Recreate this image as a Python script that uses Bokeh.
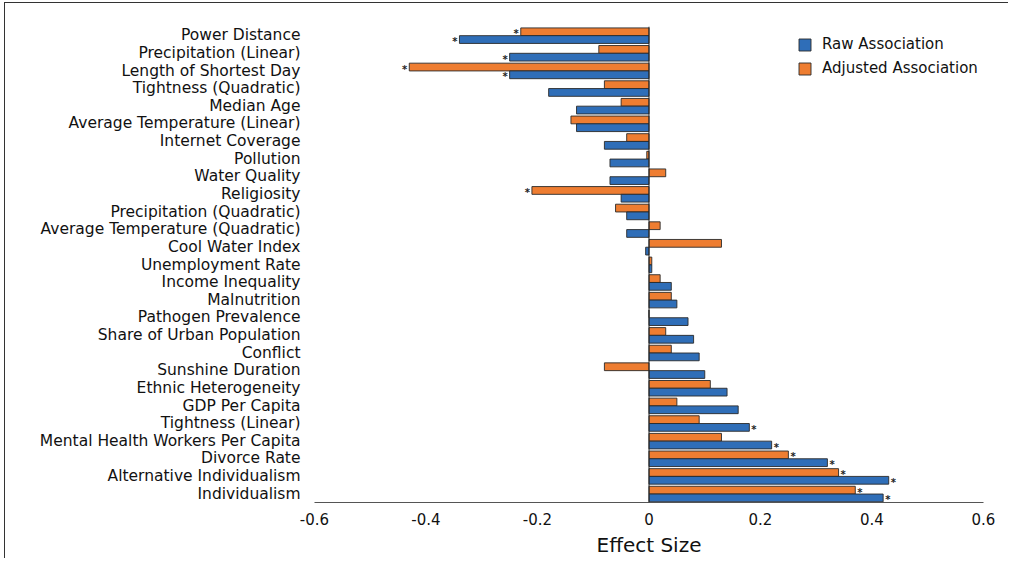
from bokeh.plotting import figure
from bokeh.models import Range1d, FixedTicker, Span, Legend, LegendItem, ColumnDataSource
from bokeh.core.properties import value
from bokeh.embed import file_html
from bokeh.resources import INLINE

categories = ["Power Distance", "Precipitation (Linear)", "Length of Shortest Day",
              "Tightness (Quadratic)", "Median Age", "Average Temperature (Linear)",
              "Internet Coverage", "Pollution", "Water Quality", "Religiosity",
              "Precipitation (Quadratic)", "Average Temperature (Quadratic)",
              "Cool Water Index", "Unemployment Rate", "Income Inequality", "Malnutrition",
              "Pathogen Prevalence", "Share of Urban Population", "Conflict",
              "Sunshine Duration", "Ethnic Heterogeneity", "GDP Per Capita",
              "Tightness (Linear)", "Mental Health Workers Per Capita", "Divorce Rate",
              "Alternative Individualism", "Individualism"]

raw = [-0.34, -0.25, -0.25, -0.18, -0.13, -0.13, -0.08, -0.07, -0.07, -0.05,
       -0.04, -0.04, -0.006, 0.005, 0.04, 0.05, 0.07, 0.08, 0.09, 0.10,
       0.14, 0.16, 0.18, 0.22, 0.32, 0.43, 0.42]
adjusted = [-0.23, -0.09, -0.43, -0.08, -0.05, -0.14, -0.04, -0.004, 0.03, -0.21,
            -0.06, 0.02, 0.13, 0.005, 0.02, 0.04, 0.0, 0.03, 0.04, -0.08,
            0.11, 0.05, 0.09, 0.13, 0.25, 0.34, 0.37]
raw_sig = [1, 1, 1, 0, 0, 0, 0, 0, 0, 0, 0, 0, 0, 0, 0, 0, 0, 0, 0, 0, 0, 0, 1, 1, 1, 1, 1]
adj_sig = [1, 0, 1, 0, 0, 0, 0, 0, 0, 1, 0, 0, 0, 0, 0, 0, 0, 0, 0, 0, 0, 0, 0, 0, 1, 1, 1]

x_ticks = [-0.6, -0.4, -0.2, 0, 0.2, 0.4, 0.6]
x_tick_labels = ["-0.6", "-0.4", "-0.2", "0", "0.2", "0.4", "0.6"]

BLUE = "#2F6EB8"
ORANGE = "#EE7D31"
FONT = "DejaVu Sans"

n = len(categories)
rows = [n - 1 - i for i in range(n)]

p = figure(width=1004, height=556, output_backend="svg", toolbar_location=None,
           x_range=Range1d(-0.6, 0.6), y_range=Range1d(-0.5, n - 0.5),
           min_border_left=309, min_border_right=26, min_border_top=23, min_border_bottom=57,
           styles={"margin-left": "4px", "margin-top": "2px",
                   "border-left": "1px solid #333", "border-top": "1px solid #333"})
p.outline_line_color = None
p.grid.visible = False
p.background_fill_color = "white"

src_raw = ColumnDataSource(dict(y=[r - 0.24 for r in rows], right=raw))
src_adj = ColumnDataSource(dict(y=[r + 0.20 for r in rows], right=adjusted))

r_adj = p.hbar(y="y", left=0, right="right", height=0.44, source=src_adj,
               fill_color=ORANGE, line_color="#2a2a2a", line_width=0.9)
r_raw = p.hbar(y="y", left=0, right="right", height=0.44, source=src_raw,
               fill_color=BLUE, line_color="#2a2a2a", line_width=0.9)

p.add_layout(Span(location=0, dimension="height", line_color="#222222", line_width=1))

# significance stars
def stars(vals, sig, offset):
    xs, ys, al, xo = [], [], [], []
    for v, s, r in zip(vals, sig, rows):
        if s:
            xs.append(v)
            ys.append(r + offset)
            al.append("left" if v > 0 else "right")
            xo.append(2 if v > 0 else -2)
    return ColumnDataSource(dict(x=xs, y=ys, align=al, xo=xo, t=["*"] * len(xs)))

for vals, sig, off in [(raw, raw_sig, -0.24), (adjusted, adj_sig, 0.20)]:
    p.text(x="x", y="y", text="t", source=stars(vals, sig, off), text_align="align",
           x_offset="xo", y_offset=2, text_baseline="middle", text_font=value(FONT),
           text_font_size="10px", text_font_style="bold", text_color="#222222")

# axes
xa = p.xaxis[0]
xa.ticker = FixedTicker(ticks=x_ticks)
xa.major_label_overrides = {t: l for t, l in zip(x_ticks, x_tick_labels)}
xa.major_tick_line_color = None
xa.minor_tick_line_color = None
xa.major_tick_out = 0
xa.major_tick_in = 0
xa.axis_line_color = "#555555"
xa.axis_line_width = 1.2
xa.major_label_standoff = 10
xa.major_label_text_font = FONT
xa.major_label_text_font_size = "15px"
xa.major_label_text_color = "#111111"
xa.axis_label = "Effect Size"
xa.axis_label_text_font = FONT
xa.axis_label_text_font_size = "20px"
xa.axis_label_text_font_style = "normal"
xa.axis_label_text_color = "#111111"
xa.axis_label_standoff = 5

ya = p.yaxis[0]
ya.ticker = FixedTicker(ticks=rows)
ya.major_label_overrides = {r: c for r, c in zip(rows, categories)}
ya.axis_line_color = None
ya.major_tick_line_color = None
ya.minor_tick_line_color = None
ya.major_tick_out = 0
ya.major_tick_in = 0
ya.major_label_standoff = 14
ya.major_label_text_font = FONT
ya.major_label_text_font_size = "15.5px"
ya.major_label_text_color = "#111111"

legend = Legend(items=[LegendItem(label="Raw Association", renderers=[r_raw]),
                       LegendItem(label="Adjusted Association", renderers=[r_adj])],
                location=(483, 425), margin=0, padding=0,
                glyph_width=15, glyph_height=15, label_height=16, spacing=6,
                label_standoff=10, label_text_font=FONT, label_text_font_size="15px",
                label_text_color="#111111", border_line_color=None,
                background_fill_alpha=0)
p.add_layout(legend)

open("out.html", "w").write(file_html(p, INLINE))
